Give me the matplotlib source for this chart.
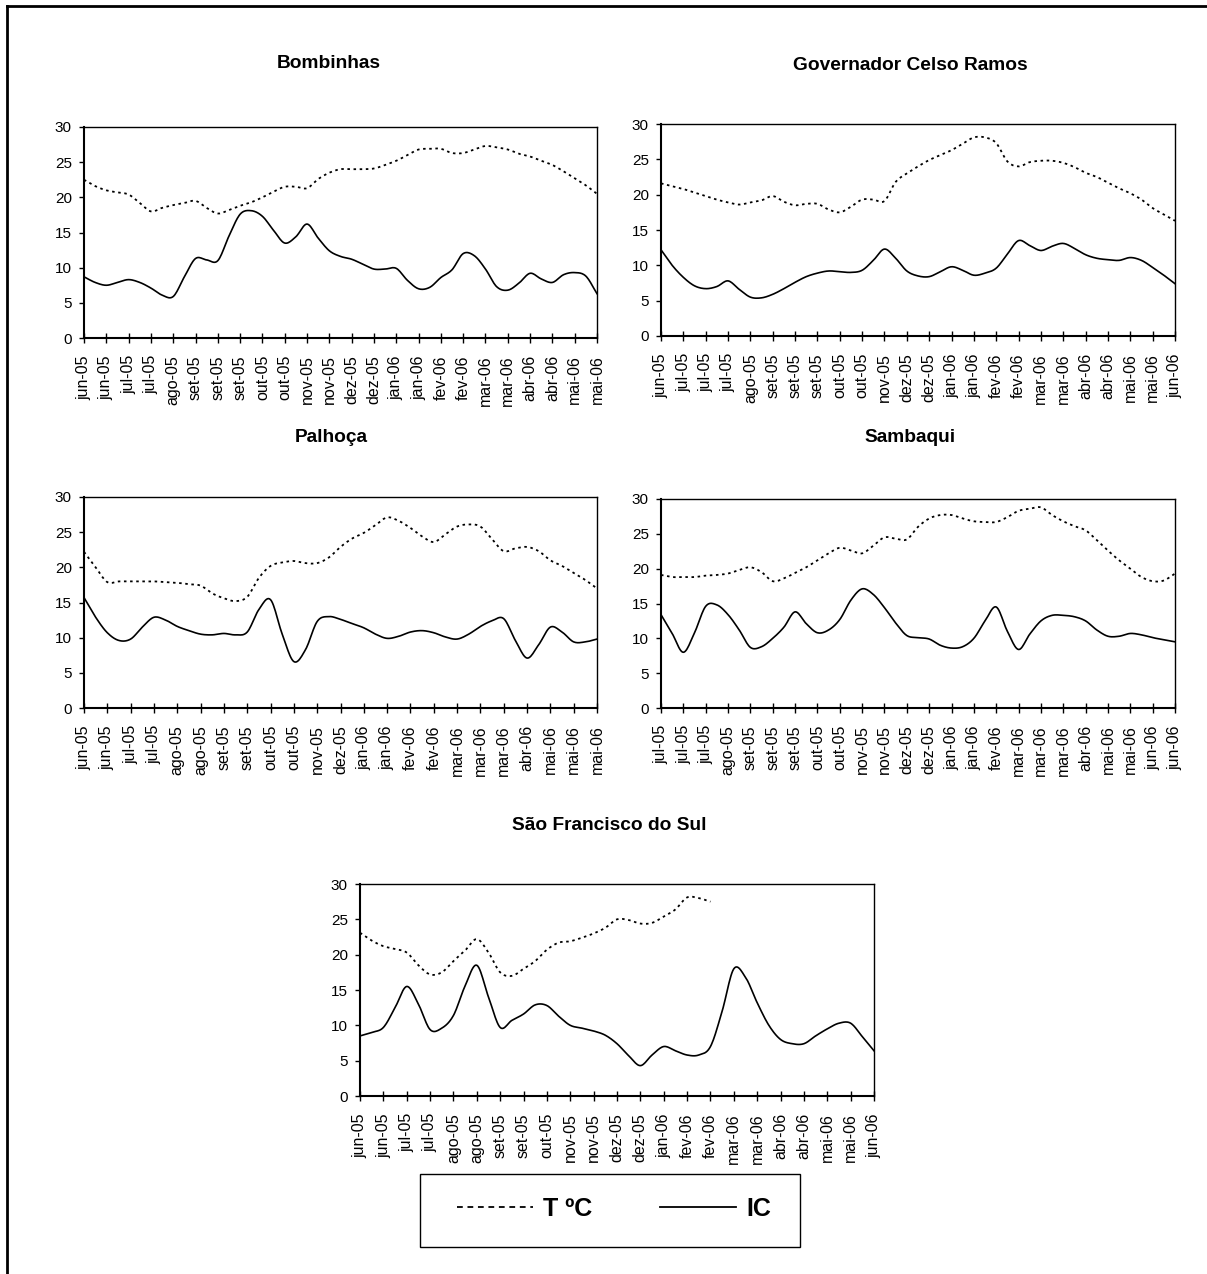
import numpy as np
import matplotlib
matplotlib.use("Agg")
import matplotlib.pyplot as plt
from matplotlib.lines import Line2D
from matplotlib.patches import Rectangle

plt.rcParams['font.family'] = ['Liberation Sans', 'DejaVu Sans']

W, H = 1207, 1274
nan = np.nan

# x tick labels of each station
bomb_months = ["jun-05", "jun-05", "jul-05", "jul-05", "ago-05", "set-05", "set-05", "set-05",
               "out-05", "out-05", "nov-05", "nov-05", "dez-05", "dez-05", "jan-06", "jan-06",
               "fev-06", "fev-06", "mar-06", "mar-06", "abr-06", "abr-06", "mai-06", "mai-06"]
gov_months = ["jun-05", "jul-05", "jul-05", "jul-05", "ago-05", "set-05", "set-05", "set-05",
              "out-05", "out-05", "nov-05", "dez-05", "dez-05", "jan-06", "jan-06", "fev-06",
              "fev-06", "mar-06", "mar-06", "abr-06", "abr-06", "mai-06", "mai-06", "jun-06"]
palh_months = ["jun-05", "jun-05", "jul-05", "jul-05", "ago-05", "ago-05", "set-05", "set-05",
               "out-05", "out-05", "nov-05", "dez-05", "jan-06", "jan-06", "fev-06", "fev-06",
               "mar-06", "mar-06", "mar-06", "abr-06", "mai-06", "mai-06", "mai-06"]
samb_months = ["jul-05", "jul-05", "jul-05", "ago-05", "set-05", "set-05", "set-05", "out-05",
               "out-05", "nov-05", "nov-05", "dez-05", "dez-05", "jan-06", "jan-06", "fev-06",
               "mar-06", "mar-06", "mar-06", "abr-06", "mai-06", "mai-06", "jun-06", "jun-06"]
sf_months = ["jun-05", "jun-05", "jul-05", "jul-05", "ago-05", "ago-05", "set-05", "set-05",
             "out-05", "nov-05", "nov-05", "dez-05", "dez-05", "jan-06", "fev-06", "fev-06",
             "mar-06", "mar-06", "abr-06", "abr-06", "mai-06", "mai-06", "jun-06"]

# temperature (T ºC) and IC, sampled twice per labelled tick
bomb_t = [22.5, 21.6, 21.0, 20.7, 20.4, 19.2, 18.0, 18.5, 18.9, 19.2,
          19.5, 18.5, 17.7, 18.2, 18.8, 19.3, 20.0, 20.8, 21.5, 21.5,
          21.3, 22.6, 23.5, 24.0, 24.0, 24.0, 24.1, 24.6, 25.2, 26.0,
          26.8, 26.9, 26.9, 26.3, 26.3, 26.8, 27.3, 27.1, 26.8, 26.2,
          25.8, 25.2, 24.6, 23.7, 22.7, 21.7, 20.5]
bomb_ic = [8.7, 7.9, 7.5, 7.9, 8.3, 7.9, 7.1, 6.1, 5.9, 8.7,
           11.3, 11.1, 11.0, 14.5, 17.6, 18.1, 17.3, 15.3, 13.5, 14.4,
           16.2, 14.2, 12.4, 11.6, 11.2, 10.5, 9.8, 9.8, 9.9, 8.2,
           7.0, 7.2, 8.6, 9.7, 12.0, 11.7, 9.8, 7.3, 6.8, 7.8,
           9.2, 8.4, 7.9, 9.0, 9.3, 8.8, 6.3]

gov_t = [21.6, 21.2, 20.8, 20.3, 19.8, 19.3, 18.9, 18.6, 18.9, 19.2,
         19.8, 19.0, 18.5, 18.7, 18.7, 17.9, 17.5, 18.3, 19.3, 19.3,
         19.1, 21.8, 23.0, 24.0, 24.9, 25.6, 26.3, 27.2, 28.1, 28.1,
         27.3, 24.7, 24.0, 24.6, 24.8, 24.8, 24.5, 23.9, 23.1, 22.5,
         21.7, 20.9, 20.2, 19.3, 18.1, 17.2, 16.3]
gov_ic = [12.2, 10.0, 8.3, 7.1, 6.7, 7.0, 7.8, 6.6, 5.5, 5.4,
          5.9, 6.7, 7.6, 8.4, 8.9, 9.2, 9.1, 9.0, 9.3, 10.7,
          12.3, 11.0, 9.2, 8.5, 8.4, 9.1, 9.8, 9.3, 8.6, 8.9,
          9.6, 11.6, 13.5, 12.8, 12.1, 12.7, 13.1, 12.4, 11.5, 11.0,
          10.8, 10.7, 11.1, 10.7, 9.7, 8.6, 7.4]

palh_t = [22.2, 20.0, 17.9, 18.0, 18.0, 18.0, 18.0, 17.9, 17.8, 17.6,
          17.4, 16.3, 15.6, 15.2, 15.8, 18.5, 20.2, 20.7, 20.9, 20.6,
          20.6, 21.4, 22.9, 24.1, 24.9, 26.0, 27.1, 26.6, 25.6, 24.4,
          23.6, 24.7, 25.8, 26.1, 25.8, 24.0, 22.3, 22.7, 22.9, 22.3,
          21.0, 20.2, 19.2, 18.2, 17.0]
palh_ic = [15.7, 12.9, 10.7, 9.6, 9.8, 11.5, 12.9, 12.5, 11.6, 11.0,
           10.5, 10.4, 10.6, 10.4, 10.8, 14.0, 15.4, 10.5, 6.6, 8.3,
           12.3, 13.0, 12.6, 12.0, 11.4, 10.5, 9.9, 10.2, 10.8, 11.0,
           10.7, 10.1, 9.8, 10.5, 11.6, 12.4, 12.7, 9.6, 7.1, 9.0,
           11.5, 10.8, 9.4, 9.4, 9.8]

samb_t = [19.1, 18.8, 18.8, 18.8, 19.0, 19.1, 19.3, 19.8, 20.2, 19.5,
          18.2, 18.6, 19.4, 20.2, 21.2, 22.2, 23.0, 22.6, 22.2, 23.3,
          24.5, 24.3, 24.2, 26.0, 27.2, 27.7, 27.7, 27.2, 26.8, 26.7,
          26.7, 27.4, 28.3, 28.6, 28.8, 27.7, 26.8, 26.1, 25.5, 24.1,
          22.6, 21.2, 20.0, 18.8, 18.2, 18.3, 19.3]
samb_ic = [13.4, 10.7, 8.0, 10.8, 14.6, 14.8, 13.4, 11.2, 8.7, 8.8,
           10.0, 11.6, 13.8, 12.1, 10.8, 11.2, 12.7, 15.5, 17.1, 16.3,
           14.4, 12.2, 10.4, 10.1, 9.9, 9.0, 8.6, 8.8, 10.0, 12.5,
           14.5, 11.0, 8.4, 10.6, 12.5, 13.3, 13.3, 13.1, 12.5, 11.2,
           10.3, 10.3, 10.7, 10.5, 10.1, 9.8, 9.5]

sf_t = [23.1, 22.0, 21.2, 20.8, 20.3, 18.5, 17.2, 17.5, 19.1, 20.6,
        22.2, 20.3, 17.5, 17.0, 18.0, 19.1, 20.7, 21.7, 21.9, 22.4,
        23.0, 23.8, 25.0, 24.9, 24.4, 24.5, 25.4, 26.4, 28.1, 28.0,
        27.5, nan, nan, nan, nan, nan, nan, nan, nan, nan,
        nan, nan, nan, nan, nan]
sf_ic = [8.5, 9.0, 9.7, 12.5, 15.5, 13.0, 9.4, 9.6, 11.4, 15.6,
         18.5, 14.0, 9.7, 10.7, 11.6, 12.9, 12.8, 11.3, 10.0, 9.6,
         9.2, 8.6, 7.4, 5.7, 4.3, 5.8, 7.0, 6.4, 5.8, 5.8,
         7.0, 12.0, 18.0, 16.8, 13.2, 10.0, 8.0, 7.4, 7.4, 8.5,
         9.5, 10.3, 10.3, 8.4, 6.4]


def smooth(x, y, steps=12):
    """Cardinal (Catmull-Rom) spline through the points, like a smoothed line."""
    x = np.asarray(x, float)
    y = np.asarray(y, float)
    ok = ~np.isnan(y)
    x, y = x[ok], y[ok]
    yp = np.concatenate([[2 * y[0] - y[1]], y, [2 * y[-1] - y[-2]]])
    m = (yp[2:] - yp[:-2]) / 2
    t = np.linspace(0, 1, steps, endpoint=False)
    h00 = 2 * t**3 - 3 * t**2 + 1
    h10 = t**3 - 2 * t**2 + t
    h01 = -2 * t**3 + 3 * t**2
    h11 = t**3 - t**2
    xs, ys = [], []
    for i in range(len(y) - 1):
        xs.append(x[i] + t * (x[i + 1] - x[i]))
        ys.append(h00 * y[i] + h10 * m[i] + h01 * y[i + 1] + h11 * m[i + 1])
    xs.append([x[-1]])
    ys.append([y[-1]])
    return np.concatenate(xs), np.concatenate(ys)


fig = plt.figure(figsize=(W / 100, H / 100), dpi=100)


def px_rect(x0, y0, x1, y1):
    return [x0 / W, 1 - y1 / H, (x1 - x0) / W, (y1 - y0) / H]


def panel(box, title, title_xy, months, temp, ic):
    ax = fig.add_axes(px_rect(*box))
    n = len(months)
    x = np.arange(len(ic)) / 2
    xt, yt = smooth(x, temp)
    ax.plot(xt, yt, color="black", lw=1.3, linestyle=(0, (1.4, 2.0)))
    xi, yi = smooth(x, ic)
    ax.plot(xi, yi, color="black", lw=1.2)
    ax.set_xlim(0, n - 1)
    ax.set_ylim(0, 30)
    ax.set_yticks(range(0, 31, 5))
    ax.set_xticks(range(n))
    ax.set_xticklabels(months, rotation=90)
    ax.tick_params(axis="x", direction="inout", length=7.5, width=1.0, pad=8.5, labelsize=11.5)
    ax.tick_params(axis="y", direction="out", length=3.8, width=1.0, pad=5, labelsize=11)
    for side in ("left", "bottom"):
        ax.spines[side].set_linewidth(1.5)
    for side in ("top", "right"):
        ax.spines[side].set_linewidth(1.0)
    fig.text(title_xy[0] / W, 1 - title_xy[1] / H, title, ha="center", va="center",
             fontsize=13.8, fontweight="bold")
    return ax


panel((84, 127, 597, 338), "Bombinhas", (329, 63), bomb_months, bomb_t, bomb_ic)
panel((661, 124, 1175, 336), "Governador Celso Ramos", (910, 65), gov_months, gov_t, gov_ic)
panel((84, 497, 597, 708), "Palhoça", (331, 438), palh_months, palh_t, palh_ic)
panel((661, 499, 1175, 708), "Sambaqui", (910, 438), samb_months, samb_t, samb_ic)
panel((360, 884, 874, 1096), "São Francisco do Sul", (609, 825), sf_months, sf_t, sf_ic)

# legend box under the last panel
fig.add_artist(Rectangle((420 / W, 1 - 1247 / H), 380 / W, 73 / H, transform=fig.transFigure,
                         facecolor="white", edgecolor="black", lw=1.0))
handles = [Line2D([], [], color="black", lw=1.3, linestyle=(0, (3.2, 2.6))),
           Line2D([], [], color="black", lw=1.3)]
fig.legend(handles, ["T ºC", "IC"], loc="center", ncol=2, frameon=False,
           bbox_to_anchor=(614 / W, 1 - 1209 / H), handlelength=3.05, handletextpad=0.4,
           columnspacing=2.7, prop={"weight": "bold", "size": 18})

# page frame on the left and top
fig.add_artist(Line2D([7 / W, 7 / W], [0, 1 - 6 / H], transform=fig.transFigure,
                      color="black", lw=2.0))
fig.add_artist(Line2D([7 / W, 1], [1 - 6 / H, 1 - 6 / H], transform=fig.transFigure,
                      color="black", lw=2.0))

fig.savefig("out.png", dpi=100)
